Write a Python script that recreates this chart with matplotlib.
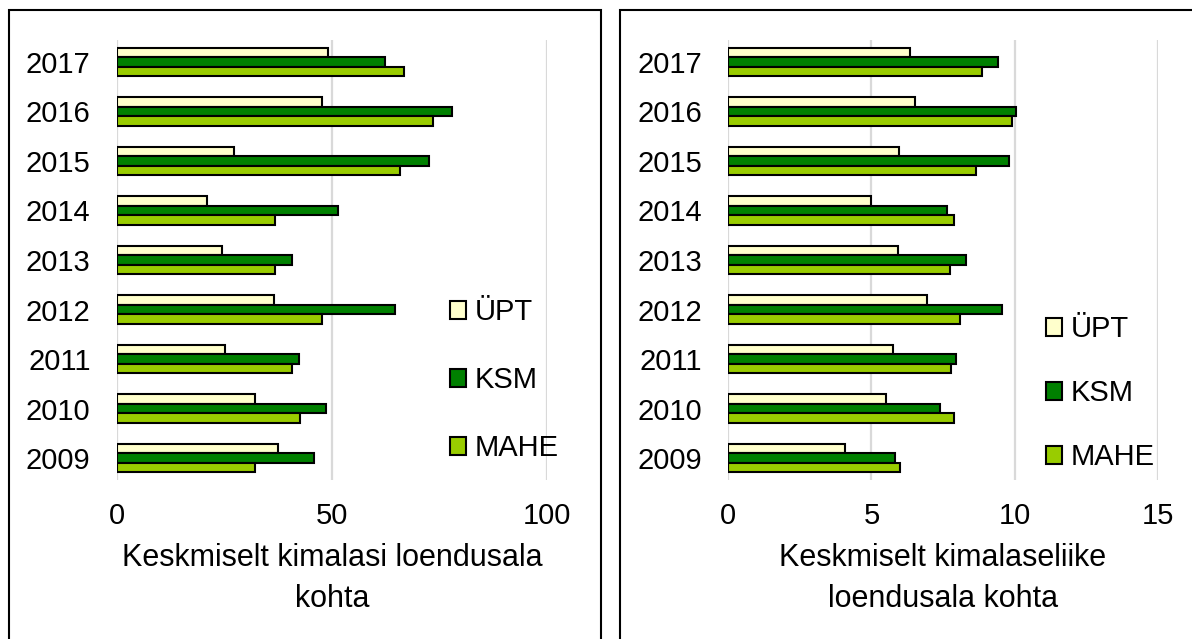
import matplotlib.pyplot as plt
import matplotlib.patches as patches
import numpy as np

plt.rcParams['font.family'] = ['Liberation Sans', 'DejaVu Sans']

years = ['2009', '2010', '2011', '2012', '2013', '2014', '2015', '2016', '2017']
series = ['ÜPT', 'KSM', 'MAHE']
colors = ['#FFFFCC', '#008000', '#99CC00']

# kimalased loendusala kohta
kim_upt = [37.4, 32.1, 25.0, 36.6, 24.4, 20.9, 27.3, 47.6, 49.1]
kim_ksm = [45.9, 48.5, 42.3, 64.7, 40.8, 51.3, 72.5, 78.0, 62.3]
kim_mahe = [32.1, 42.6, 40.8, 47.6, 36.8, 36.8, 65.7, 73.6, 66.7]

# kimalaseliigid loendusala kohta
liik_upt = [4.06, 5.52, 5.75, 6.94, 5.92, 4.98, 5.97, 6.52, 6.33]
liik_ksm = [5.83, 7.38, 7.97, 9.56, 8.30, 7.65, 9.79, 10.06, 9.42]
liik_mahe = [6.01, 7.88, 7.78, 8.10, 7.73, 7.87, 8.65, 9.92, 8.87]

fig = plt.figure(figsize=(11.92, 6.39), dpi=100)

# panel frames
fig.add_artist(patches.Rectangle((9 / 1192, -0.05), 592 / 1192, 1.05 - 10 / 639,
                                 transform=fig.transFigure, fill=False, ec='black', lw=1.5))
fig.add_artist(patches.Rectangle((620 / 1192, -0.05), 600 / 1192, 1.05 - 10 / 639,
                                 transform=fig.transFigure, fill=False, ec='black', lw=1.5))


def draw_panel(rect, data, xmax, xticks, xlabel, leg_pos, leg_spacing):
    ax = fig.add_axes(rect)
    y = np.arange(len(years))
    h = 0.19
    offsets = [h, 0, -h]
    for vals, off, col, name in zip(data, offsets, colors, series):
        ax.barh(y + off, vals, height=h, color=col, edgecolor='black', linewidth=1.5,
                label=name, zorder=3)
    ax.set_xlim(0, xmax)
    ax.set_ylim(-0.444, 8.444)
    ax.set_xticks(xticks)
    ax.set_yticks(y)
    ax.set_yticklabels(years)
    for s in ax.spines.values():
        s.set_visible(False)
    ax.tick_params(axis='both', length=0, labelsize=21)
    ax.tick_params(axis='x', pad=16)
    ax.tick_params(axis='y', pad=19)
    ax.grid(axis='x', color='#d9d9d9', linewidth=1.6, zorder=0)
    ax.set_axisbelow(True)
    ax.set_xlabel(xlabel, fontsize=22, labelpad=9, linespacing=1.47)
    ax.legend(loc='center left', bbox_to_anchor=leg_pos, frameon=False, fontsize=21,
              handlelength=0.55, handleheight=0.55, handletextpad=0.3,
              labelspacing=leg_spacing, borderpad=0, borderaxespad=0)
    return ax


draw_panel([117 / 1192, 1 - 480 / 639, 430 / 1192, 440 / 639],
           [kim_upt, kim_ksm, kim_mahe], 100, [0, 50, 100],
           'Keskmiselt kimalasi loendusala\nkohta', (0.774, 0.227), 1.37)
draw_panel([728.3 / 1192, 1 - 480 / 639, 429.4 / 1192, 440 / 639],
           [liik_upt, liik_ksm, liik_mahe], 15, [0, 5, 10, 15],
           'Keskmiselt kimalaseliike\nloendusala kohta', (0.74, 0.197), 1.24)

fig.savefig('out.png', dpi=100)
